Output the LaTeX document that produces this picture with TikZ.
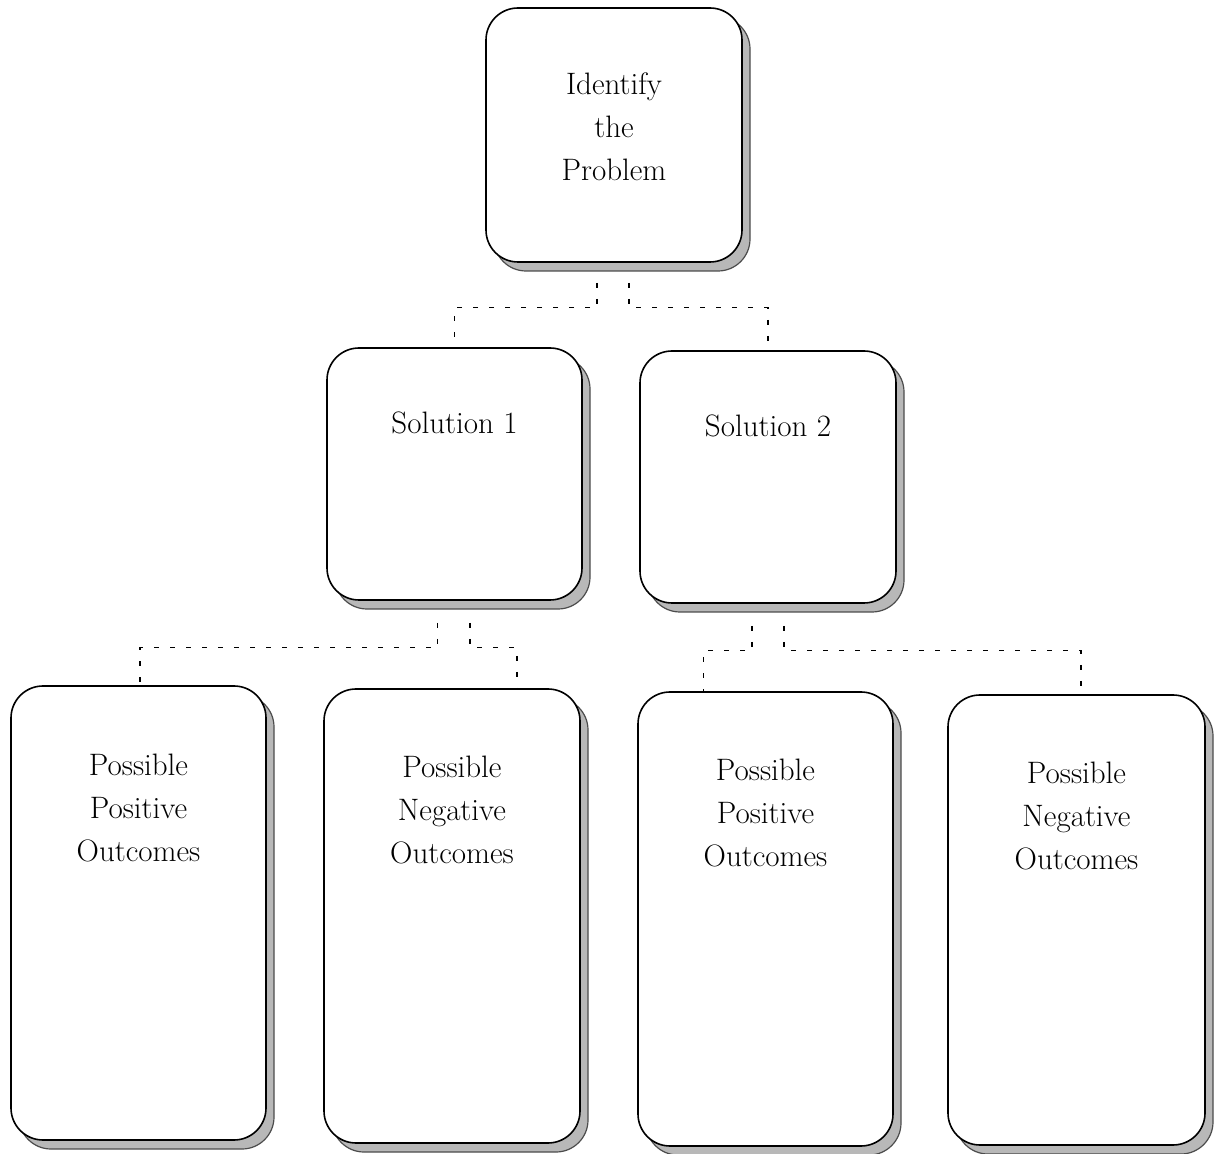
\documentclass[tikz,border=0pt]{standalone}
\usetikzlibrary{shadows}

\begin{document}
\begin{tikzpicture}[x=0.5pt,y=-0.5pt,%%
  boxStyle/.style={draw,line width=0.8pt,fill=white,rounded corners=16pt,
    general shadow={shadow xshift=4pt,shadow yshift=-4.5pt,fill=black!28,
      draw=black!70,line width=0.6pt}},
  textStyle/.style={align=center,font=\fontsize{15.5}{21.5}\selectfont},
  linkStyle/.style={line width=0.6pt,dash pattern=on 2.5pt off 5.5pt}
]
\useasboundingbox (0,0) rectangle (1216,1154);
%%
%% The boxes.
\node[boxStyle,minimum width=128pt,minimum height=127pt] (top) at (614,135) {};
\node[boxStyle,minimum width=127.5pt,minimum height=126pt] (sol1) at (454.5,474) {};
\node[boxStyle,minimum width=128pt,minimum height=126pt] (sol2) at (768,477) {};
\node[boxStyle,minimum width=127.5pt,minimum height=227pt] (out1) at (138.5,913) {};
\node[boxStyle,minimum width=128pt,minimum height=227pt] (out2) at (452,916) {};
\node[boxStyle,minimum width=127.5pt,minimum height=227pt] (out3) at (765.5,919) {};
\node[boxStyle,minimum width=128.5pt,minimum height=225pt] (out4) at (1076.5,920) {};
%%
%% The texts.
\node[textStyle] (topText) at ([yshift=4pt]top) {Identify\\the\\Problem};
\node[textStyle] (sol1Text) at ([yshift=-38pt]sol1.north) {Solution 1};
\node[textStyle] (sol2Text) at ([yshift=-38pt]sol2.north) {Solution 2};
\node[textStyle] (out1Text) at ([yshift=-61.5pt]out1.north) {Possible\\Positive\\Outcomes};
\node[textStyle] (out2Text) at ([yshift=-61pt]out2.north) {Possible\\Negative\\Outcomes};
\node[textStyle] (out3Text) at ([yshift=-61pt]out3.north) {Possible\\Positive\\Outcomes};
\node[textStyle] (out4Text) at ([yshift=-61pt]out4.north) {Possible\\Negative\\Outcomes};
%%
%% The dashed links.
\draw[linkStyle] ([xshift=-8.5pt,yshift=-10pt]top.south) -- ++(0,-12.5pt) -| (sol1.north);
\draw[linkStyle] ([xshift=7.5pt,yshift=-10pt]top.south) -- ++(0,-12.5pt) -| (sol2.north);
\draw[linkStyle] ([xshift=-8.5pt,yshift=-11pt]sol1.south) -- ++(0,-12.5pt) -| ([xshift=0.75pt]out1.north);
\draw[linkStyle] ([xshift=7.75pt,yshift=-11pt]sol1.south) -- ++(0,-12.5pt) -| ([xshift=32.5pt]out2.north);
\draw[linkStyle] ([xshift=-8pt,yshift=-11pt]sol2.south) -- ++(0,-12.5pt) -| ([xshift=-31pt]out3.north);
\draw[linkStyle] ([xshift=8pt,yshift=-11pt]sol2.south) -- ++(0,-12.5pt) -| ([xshift=2.25pt]out4.north);
\end{tikzpicture}
\end{document}
